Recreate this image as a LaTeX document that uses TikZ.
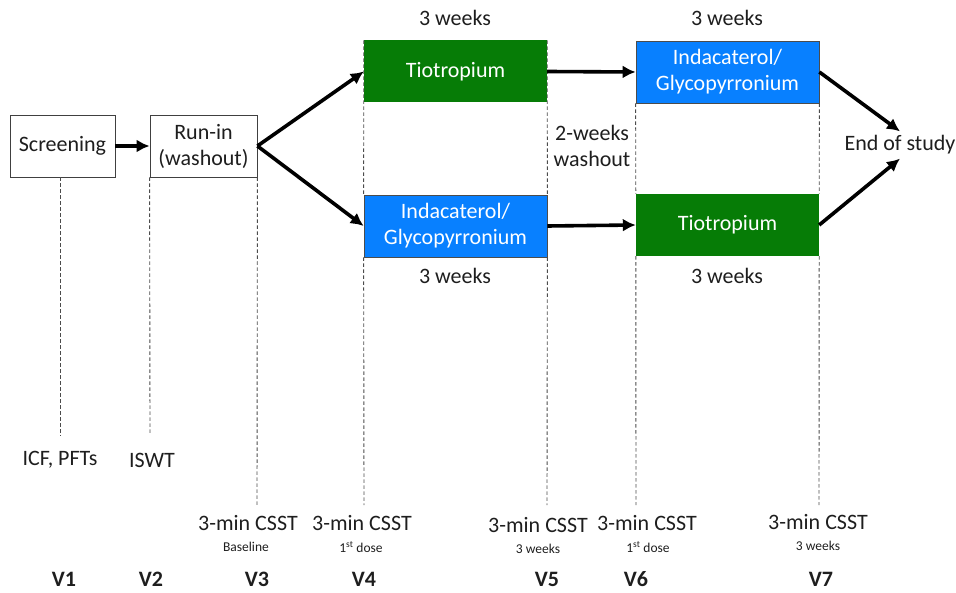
\documentclass[tikz,border=0pt]{standalone}
\usepackage{fontspec}
\setmainfont{Carlito}
\usetikzlibrary{arrows.meta}
\definecolor{tgreen}{RGB}{6,124,6}
\definecolor{tblue}{RGB}{8,128,255}
\definecolor{txt}{RGB}{30,30,30}
\tikzset{
  big/.style={font=\fontsize{22}{26}\selectfont, text=txt, align=center},
  small/.style={font=\fontsize{13.5}{15}\selectfont, text=txt, align=center},
  vlab/.style={font=\fontsize{22}{25}\selectfont\bfseries, text=txt},
  wbox/.style={big, draw=black!75, line width=0.8pt, fill=white, minimum height=62pt, inner sep=2pt},
  gbox/.style={big, fill=tgreen, text=white, minimum width=183pt, minimum height=62pt, inner sep=2pt},
  bbox/.style={big, fill=tblue, draw=black!70, line width=0.7pt, text=white, minimum width=183pt, minimum height=62pt, inner sep=2pt},
  vdash/.style={draw=black!70, line width=0.9pt, dash pattern=on 3.5pt off 2.5pt},
  thickarrow/.style={line width=3.6pt, -{Latex[length=13pt,width=13pt]}}
}
\begin{document}
\begin{tikzpicture}[x=1pt,y=-1pt]
\useasboundingbox (0,0) rectangle (956,593);
% boxes
\node[wbox, minimum width=105pt] (scr) at (62.5,146) {Screening};
\node[wbox, minimum width=107pt] (run) at (203.5,146) {Run-in\\(washout)};
\node[gbox] (tio1) at (455.5,71.5) {Tiotropium};
\node[bbox] (ind1) at (455.5,226) {Indacaterol/\\Glycopyrronium};
\node[bbox] (ind2) at (727.5,72) {Indacaterol/\\Glycopyrronium};
\node[gbox] (tio2) at (727.5,225) {Tiotropium};
\node[big, inner sep=4pt] (eos) at (900,145) {End of study};
% period labels
\node[big] (w1) at (455,18) {3 weeks};
\node[big] (w2) at (727,18) {3 weeks};
\node[big] (w3) at (455,276) {3 weeks};
\node[big] (w4) at (727,276) {3 weeks};
\node[big] (wash) at (592,146) {2-weeks\\washout};
% bottom labels
\node[big] (icf) at (60,460) {ICF, PFTs};
\node[big] (iswt) at (152,460) {ISWT};
\node[big] (c3) at (248,523) {3-min CSST};
\node[small] (s3) at (246,547) {Baseline};
\node[big] (c4) at (362,523) {3-min CSST};
\node[small] (s4) at (361,547) {1\textsuperscript{st} dose};
\node[big] (c5) at (538,525) {3-min CSST};
\node[small] (s5) at (538,549) {3 weeks};
\node[big] (c6) at (647,523) {3-min CSST};
\node[small] (s6) at (648,547) {1\textsuperscript{st} dose};
\node[big] (c7) at (818,522) {3-min CSST};
\node[small] (s7) at (818,546) {3 weeks};
\node[vlab] (v1) at (64,579) {V1};
\node[vlab] (v2) at (151,579) {V2};
\node[vlab] (v3) at (257,579) {V3};
\node[vlab] (v4) at (364,579) {V4};
\node[vlab] (v5) at (547,579) {V5};
\node[vlab] (v6) at (636,579) {V6};
\node[vlab] (v7) at (821,579) {V7};
% dashed guide lines
\coordinate (e1) at (60,436);
\coordinate (e2) at (150,434);
\coordinate (e3) at (257,505);
\coordinate (e4) at (364,505);
\coordinate (e5) at (547,505);
\coordinate (e6) at (636,505);
\coordinate (e7) at (819,505);
\draw[vdash] (scr.south -| e1) -- (e1);
\draw[vdash] (run.south west) -- (e2);
\draw[vdash] (run.south east) -- (e3);
\draw[vdash] (tio1.north west) -- (ind1.north west);
\draw[vdash] (tio1.north east) -- (ind1.north east);
\draw[vdash] (ind1.south west) -- (e4);
\draw[vdash] (ind1.south east) -- (e5);
\draw[vdash] (ind2.south west) -- (tio2.north west);
\draw[vdash] (ind2.south east) -- (tio2.north east);
\draw[vdash] (tio2.south west) -- (e6);
\draw[vdash] (tio2.south east) -- (e7);
% arrows
\draw[thickarrow] (scr.east) -- (run.west);
\draw[thickarrow] (run.east) -- (tio1.west);
\draw[thickarrow] (run.east) -- (ind1.west);
\draw[thickarrow] (tio1.east) -- (ind2.west);
\draw[thickarrow] (ind1.east) -- (tio2.west);
\draw[thickarrow] (ind2.east) -- (eos.north);
\draw[thickarrow] (tio2.east) -- (eos.south);
\end{tikzpicture}
\end{document}
